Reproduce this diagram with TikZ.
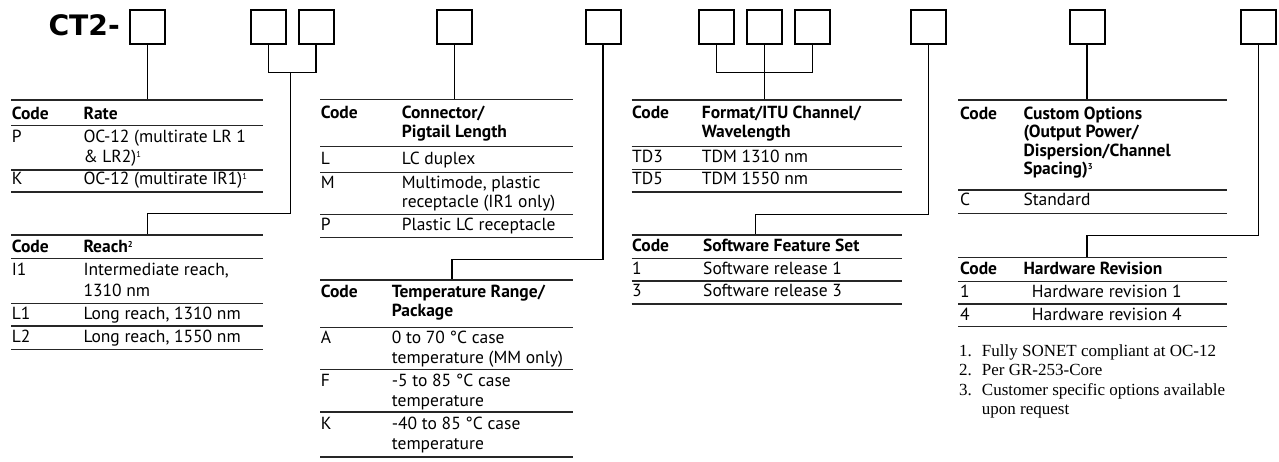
\documentclass[tikz,border=0pt]{standalone}
\usepackage{fontspec}
\setmainfont{PT Sans}
\newfontfamily\serifnote{Liberation Serif}
\newfontfamily\titlefont{DejaVu Sans}
\newcommand{\tx}[4]{\node[txt] (#1) at (#2,#3) {#4};}
\newcommand{\hx}[4]{\node[hd] (#1) at (#2,#3) {#4};}
\newcommand{\rl}[3]{\draw[tabrule] (#1,#3) -- (#2,#3);}
\newcommand{\sups}[1]{\raisebox{5.2pt}{\fontsize{8.5}{8.5}\selectfont #1}}
\begin{document}
\begin{tikzpicture}[x=1pt,y=-1pt,
  codebox/.style={draw, line width=2pt, minimum width=35pt, minimum height=33.7pt, inner sep=0pt},
  wire/.style={line width=1.3pt},
  tabrule/.style={line width=1.2pt, black!85},
  txt/.style={anchor=base west, inner sep=0pt, font=\fontsize{17.5}{19}\selectfont},
  hd/.style={anchor=base west, inner sep=0pt, font=\fontsize{17.5}{19}\selectfont\bfseries},
  note/.style={anchor=base west, inner sep=0pt, font=\serifnote\fontsize{17}{19}\selectfont}]
\useasboundingbox (0,0) rectangle (1279,462);

% title and boxes
\node[anchor=base west, inner sep=0pt, font=\titlefont\bfseries\fontsize{28.2}{30}\selectfont] (title) at (48.3,36) {CT2-};
\node[codebox] (b1) at (147.7,27.2) {};
\node[codebox] (b2) at (268.2,27.2) {};
\node[codebox] (b3) at (316,27.2) {};
\node[codebox] (b4) at (454.5,27.2) {};
\node[codebox] (b5) at (603,27.2) {};
\node[codebox] (b6) at (716.3,27.2) {};
\node[codebox] (b7) at (764.5,27.2) {};
\node[codebox] (b8) at (812.7,27.2) {};
\node[codebox] (b9) at (928.5,27.2) {};
\node[codebox] (b10) at (1087,27.2) {};
\node[codebox] (b11) at (1258.8,27.2) {};

% connectors
\coordinate (j1) at (147.7,100);
\draw[wire] (b1.south) -- (j1);
\coordinate (m23) at (290.7,72.7);
\coordinate (r2) at (147.7,213.3);
\coordinate (j2) at (147.7,235);
\draw[wire] (b2.south) |- (m23) -| (b3.south);
\draw[wire] (m23) |- (r2) -- (j2);
\coordinate (j3) at (454.5,99.5);
\draw[wire] (b4.south) -- (j3);
\coordinate (r4) at (452,259.3);
\coordinate (j4) at (452,280);
\draw[wire] (b5.south) |- (r4) -- (j4);
\coordinate (m5) at (764.5,72.7);
\coordinate (j5) at (764.5,100);
\draw[wire] (b6.south) |- (m5) -| (b8.south);
\draw[wire] (b7.south) -- (j5);
\coordinate (r6) at (755.3,214.3);
\coordinate (j6) at (755.3,235);
\draw[wire] (b9.south) |- (r6) -- (j6);
\coordinate (j7) at (1087,100);
\draw[wire] (b10.south) -- (j7);
\coordinate (r8) at (1087,235.7);
\coordinate (j8) at (1087,257.3);
\draw[wire] (b11.south) |- (r8) -- (j8);

% Table 1: Rate
\rl{11}{263}{100}
\hx{t1c}{11.7}{119.5}{Code} \hx{t1h}{83.3}{119.5}{Rate}
\rl{11}{263}{125.5}
\tx{t1a}{11.7}{143}{P} \tx{t1a1}{83.3}{143}{OC-12 (multirate LR 1}
\tx{t1a2}{83.3}{162.5}{\& LR2)\sups{1}}
\rl{11}{263}{170}
\tx{t1b}{11.7}{185}{K} \tx{t1b1}{83.3}{185}{OC-12 (multirate IR1)\sups{1}}
\rl{11}{263}{192}

% Table 2: Reach
\rl{11}{263}{235}
\hx{t2c}{11.7}{252.5}{Code} \hx{t2h}{83.3}{252.5}{Reach\sups{2}}
\rl{11}{263}{258.5}
\tx{t2a}{11.7}{275.5}{I1} \tx{t2a1}{83.3}{275.5}{Intermediate reach,}
\tx{t2a2}{83.3}{297}{1310 nm}
\rl{11}{263}{303.5}
\tx{t2b}{11.7}{319}{L1} \tx{t2b1}{83.3}{319}{Long reach, 1310 nm}
\rl{11}{263}{326}
\tx{t2d}{11.7}{342}{L2} \tx{t2d1}{83.3}{342}{Long reach, 1550 nm}
\rl{11}{263}{349.3}

% Table 3: Connector
\rl{320}{573}{99.5}
\hx{t3c}{320.7}{119}{Code} \hx{t3h}{401.7}{119}{Connector/}
\hx{t3h2}{401.7}{137.5}{Pigtail Length}
\rl{320}{573}{146.5}
\tx{t3a}{320.7}{164.5}{L} \tx{t3a1}{401.7}{164.5}{LC duplex}
\rl{320}{573}{172.5}
\tx{t3b}{320.7}{189}{M} \tx{t3b1}{401.7}{189}{Multimode, plastic}
\tx{t3b2}{401.7}{207.5}{receptacle (IR1 only)}
\rl{320}{573}{214.5}
\tx{t3d}{320.7}{230.5}{P} \tx{t3d1}{401.7}{230.5}{Plastic LC receptacle}
\rl{320}{573}{237.5}

% Table 4: Temperature
\rl{320}{573}{280}
\hx{t4c}{320.7}{298}{Code} \hx{t4h}{391.7}{298}{Temperature Range/}
\hx{t4h2}{391.7}{316.5}{Package}
\rl{320}{573}{327.5}
\tx{t4a}{320.7}{343.5}{A} \tx{t4a1}{391.7}{343.5}{0 to 70 °C case}
\tx{t4a2}{391.7}{363}{temperature (MM only)}
\rl{320}{573}{369.5}
\tx{t4b}{320.7}{386}{F} \tx{t4b1}{391.7}{386}{-5 to 85 °C case}
\tx{t4b2}{391.7}{406}{temperature}
\rl{320}{573}{412}
\tx{t4d}{320.7}{429}{K} \tx{t4d1}{391.7}{429}{-40 to 85 °C case}
\tx{t4d2}{391.7}{449}{temperature}
\rl{320}{573}{457}

% Table 5: Format
\rl{631.7}{901.7}{100}
\hx{t5c}{632}{119}{Code} \hx{t5h}{701.7}{119}{Format/ITU Channel/}
\hx{t5h2}{701.7}{138}{Wavelength}
\rl{631.7}{901.7}{146.5}
\tx{t5a}{632}{162.5}{TD3} \tx{t5a1}{701.7}{162.5}{TDM 1310 nm}
\rl{631.7}{901.7}{169.5}
\tx{t5b}{632}{185}{TD5} \tx{t5b1}{701.7}{185}{TDM 1550 nm}
\rl{631.7}{901.7}{192}

% Table 6: Software
\rl{631.7}{901.7}{235}
\hx{t6c}{632}{252}{Code} \hx{t6h}{703}{252}{Software Feature Set}
\rl{631.7}{901.7}{258.5}
\tx{t6a}{632}{274}{1} \tx{t6a1}{703}{274}{Software release 1}
\rl{631.7}{901.7}{281}
\tx{t6b}{632}{297}{3} \tx{t6b1}{703}{297}{Software release 3}
\rl{631.7}{901.7}{304}

% Table 7: Custom options
\rl{958.3}{1227.3}{100}
\hx{t7c}{960}{119.5}{Code} \hx{t7h}{1023.3}{119.5}{Custom Options}
\hx{t7h2}{1023.3}{138}{(Output Power/}
\hx{t7h3}{1023.3}{156.5}{Dispersion/Channel}
\hx{t7h4}{1023.3}{175}{Spacing)\sups{3}}
\rl{958.3}{1227.3}{190}
\tx{t7a}{960}{206}{C} \tx{t7a1}{1023.3}{206}{Standard}
\rl{958.3}{1227.3}{213.5}

% Table 8: Hardware
\rl{958.3}{1227.3}{257.3}
\hx{t8c}{960}{275}{Code} \hx{t8h}{1023.3}{275}{Hardware Revision}
\rl{958.3}{1227.3}{281.7}
\tx{t8a}{960}{297.3}{1} \tx{t8a1}{1031.7}{297.3}{Hardware revision 1}
\rl{958.3}{1227.3}{304}
\tx{t8b}{960}{320}{4} \tx{t8b1}{1031.7}{320}{Hardware revision 4}
\rl{958.3}{1227.3}{326.7}

% Footnotes
\node[note] (n1) at (959,356) {1.}; \node[note] (n1t) at (981.7,356) {Fully SONET compliant at OC-12};
\node[note] (n2) at (959,375.5) {2.}; \node[note] (n2t) at (981.7,375.5) {Per GR-253-Core};
\node[note] (n3) at (959,395) {3.}; \node[note] (n3t) at (981.7,395) {Customer specific options available};
\node[note] (n3u) at (981.7,414) {upon request};
\end{tikzpicture}
\end{document}
